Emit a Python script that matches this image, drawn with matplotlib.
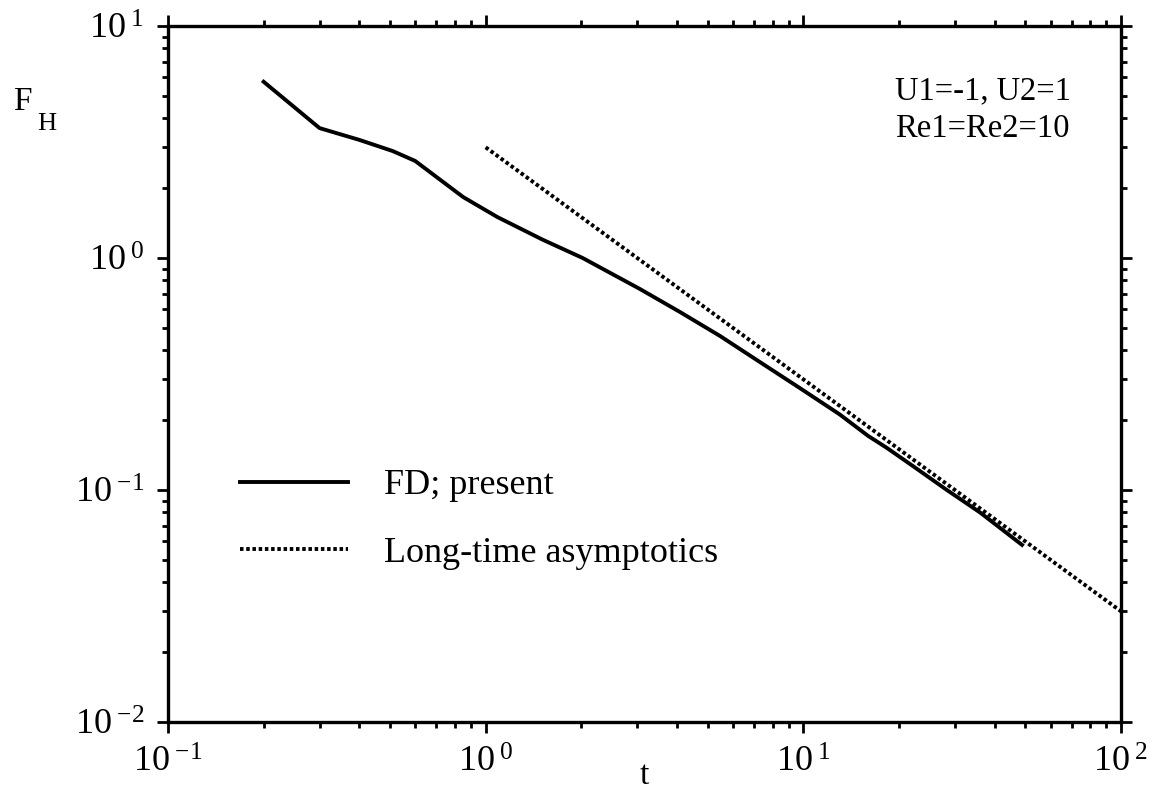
import numpy as np
import matplotlib.pyplot as plt

plt.rcParams['font.family'] = ['Liberation Serif', 'DejaVu Serif']
plt.rcParams['mathtext.fontset'] = 'custom'
plt.rcParams['mathtext.rm'] = 'Liberation Serif'
plt.rcParams['mathtext.it'] = 'Liberation Serif'

# FD; present
t_fd = [0.2, 0.3, 0.4, 0.51, 0.6, 0.85, 1.09, 1.51, 2.02, 3.06, 4.09, 5.47,
        7.3, 9.75, 13.0, 16.0, 18.3, 22.1, 28.3, 36.0, 48.8]
F_fd = [5.75, 3.63, 3.23, 2.89, 2.62, 1.83, 1.50, 1.20, 1.00, 0.735, 0.585, 0.461,
        0.356, 0.275, 0.212, 0.171, 0.152, 0.127, 0.100, 0.080, 0.058]

# Long-time asymptotics
t_lt = [1.0, 2.0, 5.0, 10.0, 20.0, 50.0, 100.0]
F_lt = [3.0, 1.5, 0.6, 0.3, 0.15, 0.06, 0.03]

xticks = [0.1, 1, 10, 100]
xticklabels = [r'10$^{\;{-}1}$', r'10$^{\;0}$', r'10$^{\;1}$', r'10$^{\;2}$']
yticks = [0.01, 0.1, 1, 10]
yticklabels = [r'10$^{\;{-}2}$', r'10$^{\;{-}1}$', r'10$^{\;0}$', r'10$^{\;1}$']

W, H = 1154, 793
fig = plt.figure(figsize=(W / 100, H / 100), dpi=100)
ax = fig.add_axes([168 / W, 71 / H, 953 / W, 696 / H])

ax.plot(t_fd, F_fd, color='black', lw=2.8, solid_joinstyle='round', label='FD; present')
ax.plot(t_lt, F_lt, color='black', lw=2.8, linestyle=(0, (0.9, 0.7)),
        dash_capstyle='butt', label='Long-time asymptotics')

ax.set_xscale('log')
ax.set_yscale('log')
ax.set_xlim(0.1, 100)
ax.set_ylim(0.01, 10)
ax.set_xticks(xticks)
ax.set_xticklabels(xticklabels)
ax.set_yticks(yticks)
ax.set_yticklabels(yticklabels)

for s in ax.spines.values():
    s.set_linewidth(2.4)
ax.tick_params(which='both', direction='out', top=True, right=True,
               labeltop=False, labelright=False, width=2.0)
ax.tick_params(which='major', length=8, labelsize=26, pad=10)
ax.tick_params(which='minor', length=4)
ax.tick_params(axis='y', which='major', pad=9)

ax.set_xlabel('t', fontsize=24)
ax.xaxis.set_label_coords(0.5, -0.055)

fig.text(13 / W, 1 - 110 / H, 'F', fontsize=24, va='baseline')
fig.text(37 / W, 1 - 130 / H, 'H', fontsize=19, va='baseline')

fig.text(895 / W, 1 - 99 / H, 'U1=-1, U2=1', fontsize=23.5, va='baseline')
fig.text(895 / W, 1 - 137 / H, 'Re1=Re2=10', fontsize=23.5, va='baseline')

ax.legend(loc='upper left', bbox_to_anchor=(240 / W, 1 - 469 / H),
          bbox_transform=fig.transFigure, frameon=False, fontsize=26,
          handlelength=3.0, handletextpad=1.0, labelspacing=0.95,
          borderpad=0, borderaxespad=0)

fig.savefig('out.png', dpi=100)
